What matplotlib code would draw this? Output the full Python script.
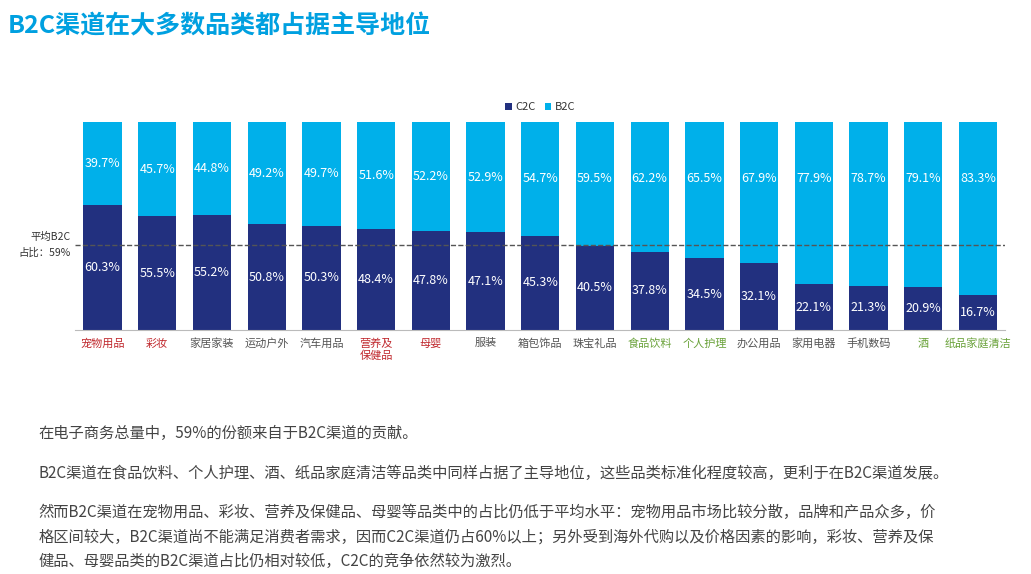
import matplotlib
matplotlib.use('Agg')
import matplotlib.pyplot as plt
import numpy as np

plt.rcParams['font.family'] = ['Noto Sans CJK SC', 'DejaVu Sans']

categories = ['宠物用品', '彩妆', '家居家装', '运动户外', '汽车用品', '营养及\n保健品', '母婴', '服装',
              '箱包饰品', '珠宝礼品', '食品饮料', '个人护理', '办公用品', '家用电器', '手机数码', '酒', '纸品家庭清洁']
c2c = [60.3, 55.5, 55.2, 50.8, 50.3, 48.4, 47.8, 47.1, 45.3, 40.5, 37.8, 34.5, 32.1, 22.1, 21.3, 20.9, 16.7]
b2c = [39.7, 45.7, 44.8, 49.2, 49.7, 51.6, 52.2, 52.9, 54.7, 59.5, 62.2, 65.5, 67.9, 77.9, 78.7, 79.1, 83.3]
label_colors = ['#c0282d', '#c0282d', '#555555', '#555555', '#555555', '#c0282d', '#c0282d', '#555555',
                '#555555', '#555555', '#6aa23a', '#6aa23a', '#555555', '#555555', '#555555', '#6aa23a', '#6aa23a']
avg_b2c = 59

C_DARK = '#22307f'
C_LIGHT = '#00b0ea'

c = np.array(c2c); b = np.array(b2c)
tot = c + b
hc = c / tot * 100
hb = b / tot * 100
x = np.arange(len(categories))

fig = plt.figure(figsize=(10.31, 5.74), dpi=100)
ax = fig.add_axes([0.073, 0.425, 0.902, 0.362])
ax.bar(x, hc, width=0.7, color=C_DARK, label='C2C')
ax.bar(x, hb, bottom=hc, width=0.7, color=C_LIGHT, label='B2C')
for i in x:
    ax.text(i, hc[i] / 2, f'{c2c[i]:.1f}%', ha='center', va='center', color='white', fontsize=9)
    yb = hc[i] + min(hb[i] / 2, 40 * 0.5 + 20)
    yb = 100 - min(hb[i] / 2, 27)
    ax.text(i, yb, f'{b2c[i]:.1f}%', ha='center', va='center', color='white', fontsize=9)

ax.axhline(100 - avg_b2c, color='#555555', ls='--', lw=1)
ax.text(-0.58, 100 - avg_b2c, f'平均B2C\n占比：{avg_b2c}%', ha='right', va='center', fontsize=7.5,
        color='#333333', linespacing=1.6)

ax.set_xlim(-0.5, len(categories) - 0.5)
ax.set_ylim(0, 100)
ax.set_xticks(x)
ax.set_xticklabels(categories, fontsize=8)
for t, col in zip(ax.get_xticklabels(), label_colors):
    t.set_color(col)
ax.tick_params(axis='x', length=0, pad=6)
ax.set_yticks([])
for s in ['top', 'right', 'left']:
    ax.spines[s].set_visible(False)
ax.spines['bottom'].set_color('#bbbbbb')

ax.legend(loc='lower center', bbox_to_anchor=(0.5, 1.0), ncol=2, frameon=False, fontsize=8,
          handlelength=0.6, handleheight=0.6, columnspacing=0.8, handletextpad=0.3,
          labelcolor='#333333')

fig.text(0.008, 0.955, 'B2C渠道在大多数品类都占据主导地位', fontsize=18, fontweight='bold',
         color='#00a0e0', va='center')

para = [
    (0.245, '在电子商务总量中，59%的份额来自于B2C渠道的贡献。'),
    (0.175, 'B2C渠道在食品饮料、个人护理、酒、纸品家庭清洁等品类中同样占据了主导地位，这些品类标准化程度较高，更利于在B2C渠道发展。'),
    (0.108, '然而B2C渠道在宠物用品、彩妆、营养及保健品、母婴等品类中的占比仍低于平均水平：宠物用品市场比较分散，品牌和产品众多，价'),
    (0.065, '格区间较大，B2C渠道尚不能满足消费者需求，因而C2C渠道仍占60%以上；另外受到海外代购以及价格因素的影响，彩妆、营养及保'),
    (0.022, '健品、母婴品类的B2C渠道占比仍相对较低，C2C的竞争依然较为激烈。'),
]
for y, s in para:
    fig.text(0.037, y, s, fontsize=11, color='#444444', va='center')

fig.savefig('out.png', dpi=100)
